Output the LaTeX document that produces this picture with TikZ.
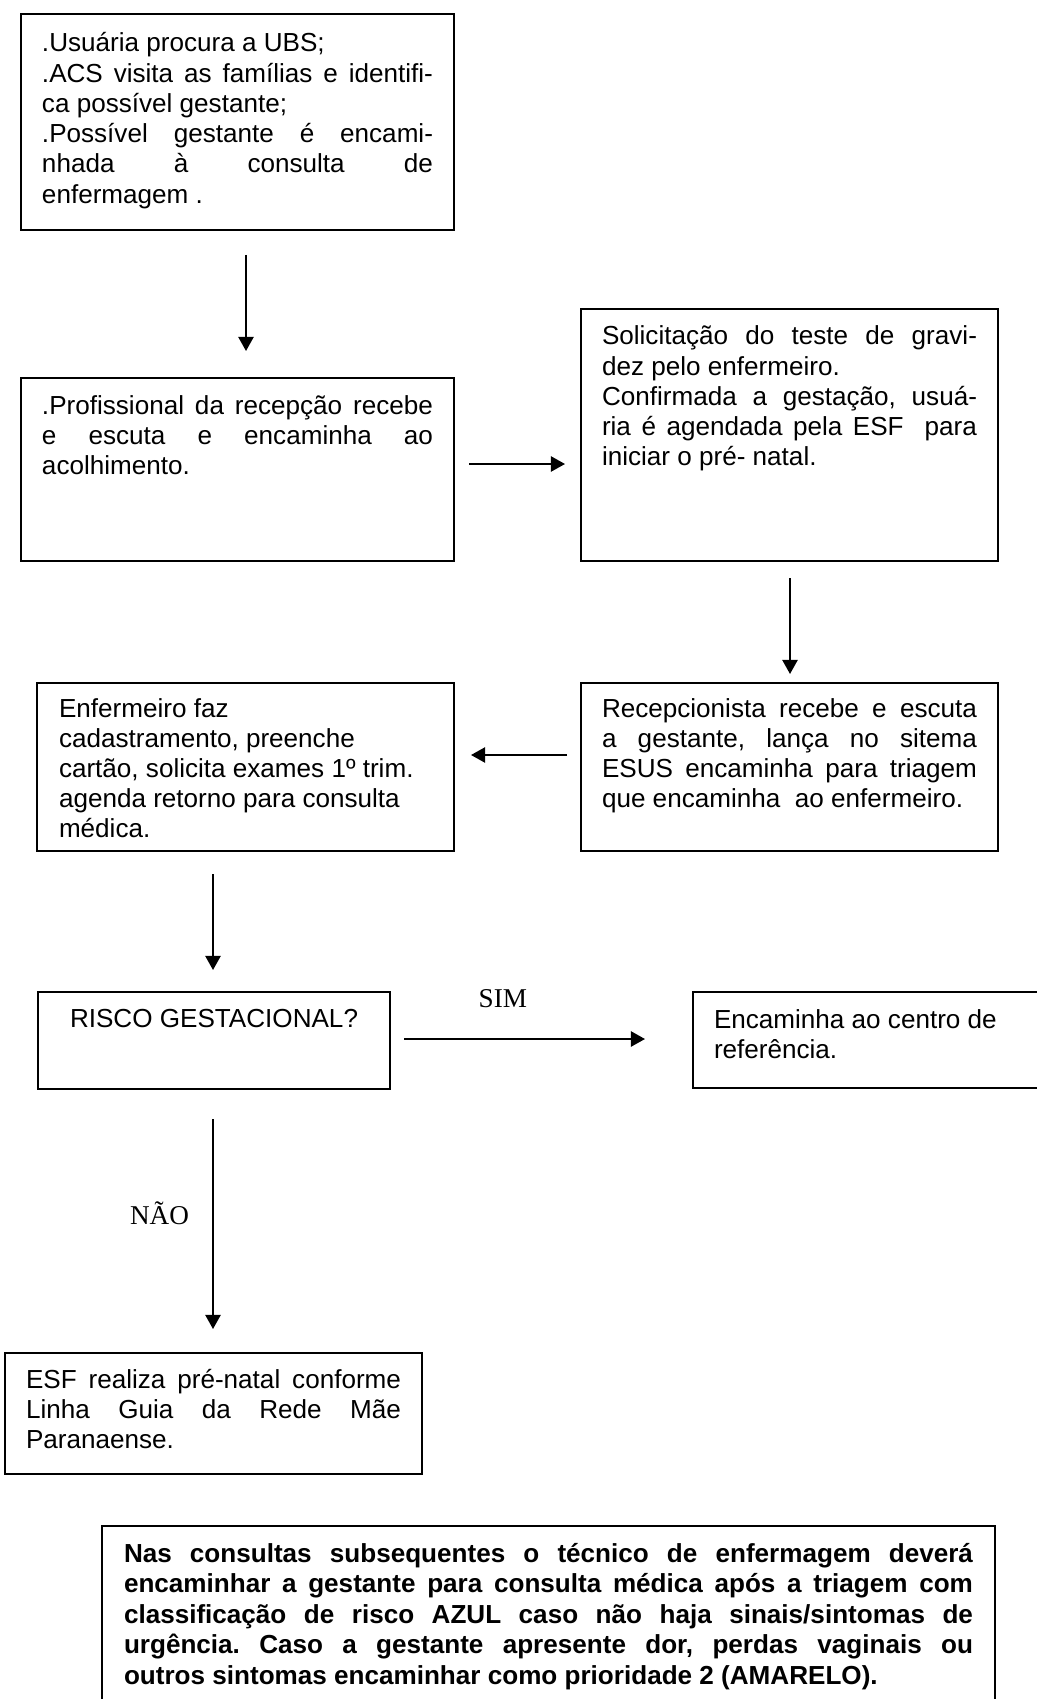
\documentclass[tikz,border=0pt]{standalone}
\usepackage{fontspec}
\setmainfont{Liberation Sans}
\newfontfamily\lblfont{Liberation Serif}
\usetikzlibrary{arrows.meta}
\newdimen\px \px=0.46pt
\tolerance=9999
\hbadness=10000
\hyphenpenalty=10000
\frenchspacing
\tikzset{
  box/.style  = {draw, line width=0.8pt, anchor=north west, outer sep=0pt,
                 inner ysep=0pt, inner xsep=21\px, align=justify,
                 font=\fontsize{12pt}{13.9pt}\selectfont},
  note/.style = {box, font=\fontsize{12pt}{14.1pt}\selectfont\bfseries},
  flow/.style = {-{Triangle[length=6.5pt,width=7pt]}, line width=0.9pt},
  lbl/.style  = {font=\lblfont\fontsize{12.5pt}{14pt}\selectfont, inner sep=0pt}
}

\begin{document}
\begin{tikzpicture}[x=\px, y=-\px]
  \useasboundingbox (0,0) rectangle (1036,1699);

  % left column, top
  \node[box, text width=391\px, text height=38\px, text depth=178\px] (b1) at (21,14) {%
    .Usuária procura a UBS;\\
    .ACS visita as famílias e identifi-\linebreak
    ca possível gestante;\\
    .Possível gestante é encami-\linebreak
    nhada à consulta de\linebreak
    enfermagem .};
  \node[box, text width=391\px, text height=36\px, text depth=147\px] (b2) at (21,378) {%
    .Profissional da recepção recebe\linebreak
    e escuta e encaminha ao\linebreak
    acolhimento.};

  % right column
  \node[box, text width=375\px, text height=36\px, text depth=216\px] (b3) at (581,309) {%
    Solicitação do teste de gravi-\linebreak
    dez pelo enfermeiro.\\
    Confirmada a gestação, usuá-\linebreak
    ria é agendada pela ESF\ \ para\linebreak
    iniciar o pré- natal.};
  \node[box, text width=375\px, text height=34\px, text depth=134\px] (b5) at (581,683) {%
    Recepcionista recebe e escuta\linebreak
    a gestante, lança no sitema\linebreak
    ESUS encaminha para triagem\linebreak
    que encaminha\ \ ao enfermeiro.};
  \node[box, inner xsep=22\px, text width=373\px, text height=34\px, text depth=134\px] (b4) at (37,683) {%
    Enfermeiro faz\\
    cadastramento, preenche\\
    cartão, solicita exames 1º trim.\\
    agenda retorno para consulta\\
    médica.};

  % decision and outcomes
  \node[box, inner xsep=20\px, text width=312\px, text height=35\px, text depth=62\px] (b6) at (38,992) {%
    \hfill RISCO GESTACIONAL?\hfill\null};
  \node[box, text width=375\px, text height=36\px, text depth=60\px] (b7) at (693,992) {%
    Encaminha ao centro de\\
    referência.};
  \node[box, text width=375\px, text height=35\px, text depth=86\px] (b8) at (5,1353) {%
    ESF realiza pré-natal conforme\linebreak
    Linha Guia da Rede Mãe\linebreak
    Paranaense.};

  % note at the bottom
  \node[note, inner xsep=22\px, text width=849\px, text height=36\px, text depth=168\px] (b9) at (102,1526) {%
    Nas consultas subsequentes o técnico de enfermagem deverá\linebreak
    encaminhar a gestante para consulta médica após a triagem com\linebreak
    classificação de risco AZUL caso não haja sinais/sintomas de\linebreak
    urgência. Caso a gestante apresente dor, perdas vaginais ou\linebreak
    outros sintomas encaminhar como prioridade 2 (AMARELO).};

  % connectors
  \draw[flow] ([shift={(8.5,25)}]b1.south) -- ([shift={(8.5,-27)}]b2.north);
  \draw[flow] ([shift={(15,-5.5)}]b2.east) -- ([shift={(-16,29)}]b3.west);
  \draw[flow] ([shift={(0.5,17)}]b3.south) -- ([shift={(0.5,-9)}]b5.north);
  \draw[flow] ([shift={(-14,-12)}]b5.west) -- ([shift={(17,-12)}]b4.east);
  \draw[flow] ([shift={(-32.5,23)}]b4.south) -- ([shift={(-1,-22)}]b6.north);
  \draw[flow] ([shift={(14,-1.5)}]b6.east) --
    node[lbl, pos=0.41, anchor=base, yshift=14.7pt] (sim) {SIM}
    ([shift={(-48,-1)}]b7.west);
  \draw[flow] ([shift={(-1,30)}]b6.south) --
    node[lbl, midway, anchor=base east, xshift=-10.6pt] (nao) {NÃO}
    ([shift={(-0.5,-24)}]b8.north);

\end{tikzpicture}
\end{document}
